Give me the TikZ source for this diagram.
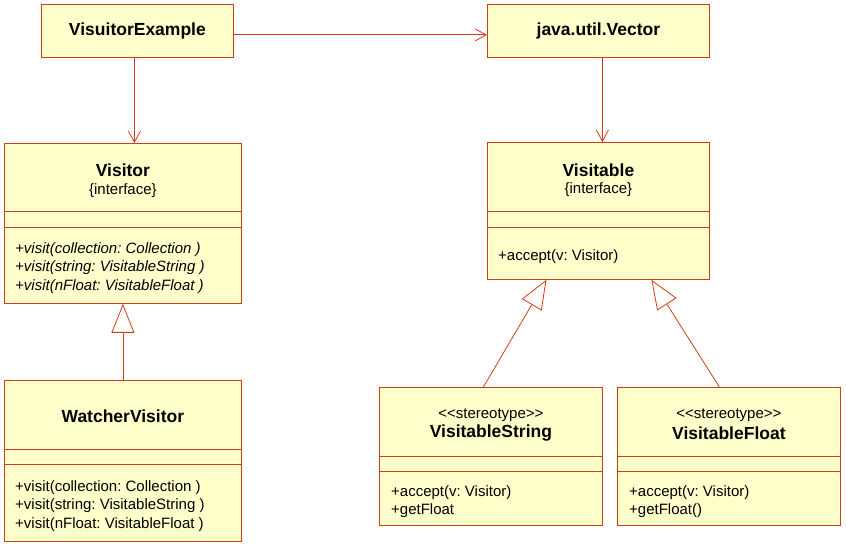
\documentclass[tikz,border=0pt]{standalone}
\usepackage{fontspec}
\setmainfont{Liberation Sans}
\usepackage{tikz}
\usetikzlibrary{arrows.meta}
\frenchspacing

\definecolor{umlline}{RGB}{208,62,24}
\definecolor{umlfill}{RGB}{255,255,204}

\begin{document}
\begin{tikzpicture}[x=1pt, y=-1pt,
  classbox/.style={draw=umlline, fill=umlfill, line width=0.8pt, inner sep=0pt, anchor=north west},
  title/.style={font=\fontsize{17.5}{20}\selectfont\bfseries},
  small/.style={font=\fontsize{15}{18.5}\selectfont},
  ops/.style={font=\fontsize{15}{18.5}\selectfont, align=left, anchor=west, inner sep=0pt},
  sep/.style={draw=umlline, line width=0.8pt},
  assoc/.style={draw=umlline, line width=0.8pt, -{Straight Barb[length=11pt,width=12pt]}},
  inherit/.style={draw=umlline, line width=0.8pt, -{Triangle[open,fill=white,length=29pt,width=23pt]}}]
\useasboundingbox (0,0) rectangle (846,545);

% top row
\node[classbox, minimum width=192, minimum height=53, title] (ve) at (41,4) {VisuitorExample};
\node[classbox, minimum width=222, minimum height=53, title] (vector) at (487,4) {java.util.Vector};

% Visitor
\node[classbox, minimum width=237, minimum height=160] (visitor) at (4,143) {};
\node[title] (visitor-name) at (visitor.north |- 0,170) {Visitor};
\node[small] (visitor-st) at (visitor.north |- 0,190.5) {\{interface\}};
\draw[sep] (visitor.west |- 0,211) -- (visitor.east |- 0,211);
\draw[sep] (visitor.west |- 0,227) -- (visitor.east |- 0,227);
\node[ops, font=\fontsize{15}{18.5}\selectfont\itshape] (visitor-ops) at (15,268)
  {+visit(collection: Collection )\\+visit(string: VisitableString )\\+visit(nFloat: VisitableFloat )};

% WatcherVisitor
\node[classbox, minimum width=237, minimum height=161] (watcher) at (4,380) {};
\node[title] (watcher-name) at (watcher.north |- 0,416.5) {WatcherVisitor};
\draw[sep] (watcher.west |- 0,449) -- (watcher.east |- 0,449);
\draw[sep] (watcher.west |- 0,464) -- (watcher.east |- 0,464);
\node[ops] (watcher-ops) at (15,506)
  {+visit(collection: Collection )\\+visit(string: VisitableString )\\+visit(nFloat: VisitableFloat )};

% Visitable
\node[classbox, minimum width=222, minimum height=137] (visitable) at (487,142) {};
\node[title] (visitable-name) at (visitable.north |- 0,170) {Visitable};
\node[small] (visitable-st) at (visitable.north |- 0,190) {\{interface\}};
\draw[sep] (visitable.west |- 0,211) -- (visitable.east |- 0,211);
\draw[sep] (visitable.west |- 0,227) -- (visitable.east |- 0,227);
\node[ops] (visitable-ops) at (498,257) {+accept(v: Visitor)};

% VisitableString
\node[classbox, minimum width=223, minimum height=138] (vstring) at (379,387) {};
\node[small] (vstring-st) at (vstring.north |- 0,415) {<{}<stereotype>{}>};
\node[title] (vstring-name) at (vstring.north |- 0,433) {VisitableString};
\draw[sep] (vstring.west |- 0,456) -- (vstring.east |- 0,456);
\draw[sep] (vstring.west |- 0,471) -- (vstring.east |- 0,471);
\node[ops] (vstring-ops) at (391,501.5) {+accept(v: Visitor)\\+getFloat};

% VisitableFloat
\node[classbox, minimum width=223, minimum height=138] (vfloat) at (617,387) {};
\node[small] (vfloat-st) at (vfloat.north |- 0,415) {<{}<stereotype>{}>};
\node[title] (vfloat-name) at (vfloat.north |- 0,433) {VisitableFloat};
\draw[sep] (vfloat.west |- 0,456) -- (vfloat.east |- 0,456);
\draw[sep] (vfloat.west |- 0,471) -- (vfloat.east |- 0,471);
\node[ops] (vfloat-ops) at (629,501.5) {+accept(v: Visitor)\\+getFloat()};

% connectors
\draw[assoc] ([yshift=-4pt]ve.east) -- ([yshift=-4pt]vector.west);
\draw[assoc] ([xshift=-3pt]ve.south) -- ([xshift=-3pt]ve.south |- visitor.north);
\draw[assoc] ([xshift=4pt]vector.south) -- ([xshift=4pt]vector.south |- visitable.north);
\draw[inherit] (watcher.north) -- (visitor.south);
\draw[inherit] ([xshift=-7.5pt]vstring.north) -- ([xshift=-52pt]visitable.south);
\draw[inherit] ([xshift=-9.5pt]vfloat.north) -- ([xshift=53pt]visitable.south);
\end{tikzpicture}
\end{document}
